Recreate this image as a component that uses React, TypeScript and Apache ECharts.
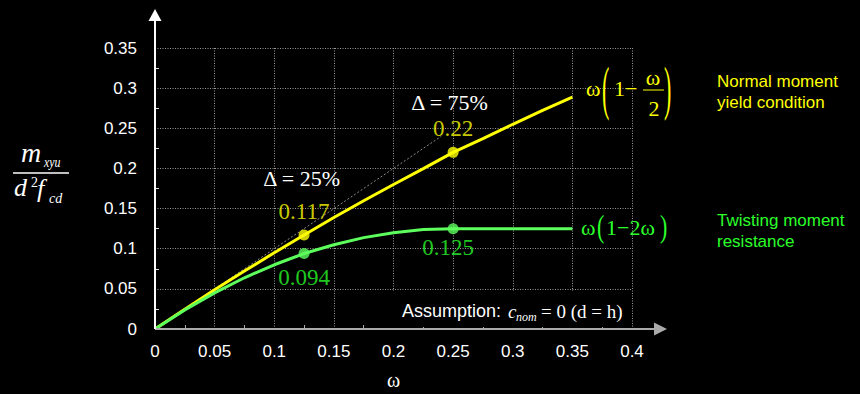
import React, { useEffect, useRef } from "react";
import * as echarts from "echarts";

// Reinforcement ratio ω along the x axis
const omega = [0, 0.025, 0.05, 0.075, 0.1, 0.125, 0.15, 0.175, 0.2, 0.225, 0.25, 0.275, 0.3, 0.325, 0.35];
// Normal moment yield condition  ω(1 − ω/2)
const normalYield = [0, 0.0247, 0.0488, 0.0722, 0.095, 0.117, 0.1388, 0.1597, 0.18, 0.1997, 0.22, 0.2372, 0.255, 0.2722, 0.2888];
// Twisting moment resistance  ω(1 − 2ω), capped at its maximum
const twistingResistance = [0, 0.0238, 0.045, 0.0638, 0.08, 0.094, 0.105, 0.1138, 0.12, 0.1238, 0.125, 0.125, 0.125, 0.125, 0.125];
// Points highlighted with a marker and a value label
const markedIndex = [5, 10];
// Reference line m = ω
const refOmega = [0, 0.24];
const refValue = [0, 0.24];

const xMin = 0;
const xMax = 0.4;
const xStep = 0.05;
const yMin = 0;
const yMax = 0.35;
const yStep = 0.05;

const YELLOW = "#ffff00";
const GREEN_LINE = "#5cff5c";
const GREEN_TEXT = "#2bff2b";
const SANS = "Liberation Sans, Arial, sans-serif";
const SERIF = "Liberation Serif, Times New Roman, serif";

export default function App() {
  const ref = useRef<HTMLDivElement>(null);

  useEffect(() => {
    if (!ref.current) return;
    const chart = echarts.init(ref.current, undefined, { renderer: "svg" });

    const gridLine = { show: true, lineStyle: { color: "#9a9a9a", width: 1, type: [1, 1.5] as any } };

    chart.setOption({
      animation: false,
      backgroundColor: "#000",
      grid: { left: 155, top: 48, width: 477, height: 281 },
      xAxis: {
        type: "value",
        min: xMin,
        max: xMax,
        interval: xStep,
        axisLine: { show: false },
        axisTick: { show: false, inside: true },
        minorTick: { show: true, splitNumber: 2, length: 4, lineStyle: { color: "#aaa", width: 1 } },
        splitLine: gridLine,
        axisLabel: { color: "#fff", fontFamily: SANS, fontSize: 17, margin: 14 },
      },
      yAxis: {
        type: "value",
        min: yMin,
        max: yMax,
        interval: yStep,
        axisLine: { show: false },
        axisTick: { show: false, inside: true },
        minorTick: { show: true, splitNumber: 2, length: 4, lineStyle: { color: "#ddd", width: 1 } },
        splitLine: gridLine,
        axisLabel: { color: "#fff", fontFamily: SANS, fontSize: 17, margin: 18 },
      },
      series: [
        {
          type: "line",
          data: refOmega.map((w, i) => [w, refValue[i]]),
          symbol: "none",
          lineStyle: { color: "#8a8a8a", width: 1, type: [2, 2] },
          z: 2,
        },
        {
          type: "line",
          data: omega.map((w, i) => [w, normalYield[i]]),
          symbol: "none",
          lineStyle: { color: YELLOW, width: 3 },
          z: 3,
        },
        {
          type: "line",
          data: omega.map((w, i) => [w, twistingResistance[i]]),
          symbol: "none",
          lineStyle: { color: GREEN_LINE, width: 3 },
          z: 3,
        },
        {
          type: "scatter",
          data: markedIndex.map((i) => [omega[i], normalYield[i]]),
          symbolSize: 11,
          itemStyle: { color: YELLOW },
          label: {
            show: true,
            position: "top",
            distance: 7,
            color: YELLOW,
            fontFamily: SERIF,
            fontSize: 23,
            formatter: (p: any) => String(p.value[1]),
          },
          z: 4,
        },
        {
          type: "scatter",
          data: markedIndex.map((i, k) =>
            k === 0
              ? [omega[i], twistingResistance[i]]
              : { value: [omega[i], twistingResistance[i]], label: { distance: 2, offset: [-5, 0] } }
          ),
          symbolSize: 11,
          itemStyle: { color: GREEN_LINE },
          label: {
            show: true,
            position: "bottom",
            distance: 7,
            color: GREEN_TEXT,
            fontFamily: SERIF,
            fontSize: 23,
            formatter: (p: any) => String(p.value[1]),
          },
          z: 4,
        },
      ],
    });

    const px = (x: number, y: number) => chart.convertToPixel({ gridIndex: 0 }, [x, y]) as number[];
    const [ox, oy] = px(0, 0);
    const xEnd = px(xMax, 0)[0];
    const yTop = px(0, yMax)[1];

    const txt = (
      text: string,
      x: number,
      y: number,
      font: string,
      fill: string,
      extra: any = {},
      align: string = "left"
    ) => ({
      type: "text",
      x,
      y,
      z: 110,
      ...extra,
      style: { text, font, fill, align, verticalAlign: "middle" },
    });

    const d25 = px(0.123, 0.187);
    const d75 = px(0.247, 0.282);

    chart.setOption({
      graphic: [
        // Assumption box (covers the grid behind it)
        {
          type: "rect",
          z: 100,
          shape: { x: 393, y: 291, width: 237, height: 36 },
          style: { fill: "#000" },
        },
        txt("Assumption:", 402, 311, `18px ${SANS}`, "#fff"),
        txt("c", 508, 311, `italic 19px ${SERIF}`, "#fff"),
        txt("nom", 516, 317, `italic 12px ${SERIF}`, "#fff"),
        txt("= 0 (d = h)", 541, 311, `19px ${SERIF}`, "#fff"),

        // axes with arrows
        {
          type: "line",
          z: 105,
          shape: { x1: ox, y1: oy, x2: xEnd + 22, y2: oy },
          style: { stroke: "#aaa", lineWidth: 2 },
        },
        {
          type: "polygon",
          z: 105,
          shape: { points: [[xEnd + 22, oy - 6.5], [xEnd + 35, oy], [xEnd + 22, oy + 6.5]] },
          style: { fill: "#aaa" },
        },
        {
          type: "line",
          z: 106,
          shape: { x1: ox, y1: oy, x2: ox, y2: yTop - 27 },
          style: { stroke: "#fff", lineWidth: 2 },
        },
        {
          type: "polygon",
          z: 106,
          shape: { points: [[ox - 6.5, yTop - 27], [ox, yTop - 39], [ox + 6.5, yTop - 27]] },
          style: { fill: "#fff" },
        },

        // axis titles
        txt("ω", (ox + xEnd) / 2, 380, `20px ${SERIF}`, "#fff", {}, "center"),
        txt("m", 21, 152, `italic 28px ${SERIF}`, "#fff"),
        txt("xyu", 44, 162, `italic 14px ${SERIF}`, "#fff", { scaleX: 0.85 }),
        {
          type: "line",
          z: 110,
          shape: { x1: 13, y1: 173, x2: 69, y2: 173 },
          style: { stroke: "#fff", lineWidth: 1.5 },
        },
        txt("d", 14, 187, `italic 26px ${SERIF}`, "#fff"),
        txt("2", 31, 182, `14px ${SERIF}`, "#fff"),
        txt("f", 37, 188, `italic 26px ${SERIF}`, "#fff"),
        txt("cd", 49, 198, `italic 14px ${SERIF}`, "#fff"),

        // Δ annotations
        txt("Δ = 25%", d25[0], d25[1], `22px ${SERIF}`, "#fff", {}, "center"),
        txt("Δ = 75%", d75[0], d75[1], `22px ${SERIF}`, "#fff", {}, "center"),

        // yellow formula ω(1 − ω/2)
        txt("ω", 586, 88, `22px ${SERIF}`, YELLOW),
        txt("(", 602, 88, `22px ${SERIF}`, YELLOW, { scaleY: 2.7 }),
        txt("1−", 614, 88, `22px ${SERIF}`, YELLOW),
        txt("ω", 653, 77, `22px ${SERIF}`, YELLOW, {}, "center"),
        {
          type: "line",
          z: 110,
          shape: { x1: 643, y1: 90, x2: 664, y2: 90 },
          style: { stroke: YELLOW, lineWidth: 1 },
        },
        txt("2", 654, 108, `22px ${SERIF}`, YELLOW, {}, "center"),
        txt(")", 664, 88, `22px ${SERIF}`, YELLOW, { scaleY: 2.7 }),

        // green formula ω(1 − 2ω)
        txt("ω", 581, 227, `22px ${SERIF}`, GREEN_TEXT),
        txt("(", 597, 227, `22px ${SERIF}`, GREEN_TEXT, { scaleY: 1.4 }),
        txt("1−2ω", 606, 227, `22px ${SERIF}`, GREEN_TEXT),
        txt(")", 660, 227, `22px ${SERIF}`, GREEN_TEXT, { scaleY: 1.4 }),

        // curve descriptions
        txt("Normal moment", 717, 81, `17px ${SANS}`, YELLOW),
        txt("yield condition", 717, 102, `17px ${SANS}`, YELLOW),
        txt("Twisting moment", 717, 220, `17px ${SANS}`, GREEN_TEXT),
        txt("resistance", 717, 241, `17px ${SANS}`, GREEN_TEXT),
      ],
    });

    return () => chart.dispose();
  }, []);

  return (
    <div
      ref={ref}
      style={{ position: "fixed", left: 0, top: 0, width: 860, height: 394, background: "#000" }}
    />
  );
}
